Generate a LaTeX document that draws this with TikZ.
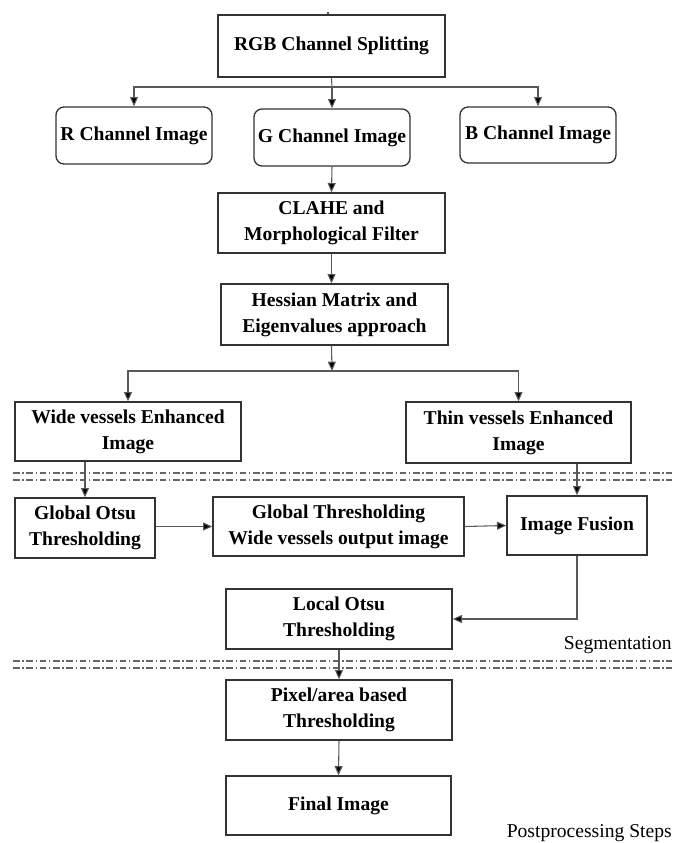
\documentclass[tikz,border=0pt]{standalone}
\usepackage{fontspec}
\setmainfont{Liberation Serif}[BoldFont={Liberation Serif Bold}]
\usetikzlibrary{arrows.meta}

\begin{document}
\begin{tikzpicture}[x=0.75pt, y=-0.75pt,
	box/.style={draw=black!80, line width=1pt, align=center, inner sep=0pt, font=\fontsize{14.7}{19.5}\selectfont\bfseries},
	chan/.style={box, rounded corners=6pt},
	link/.style={draw=black!65, line width=0.8pt, -{Triangle[length=7pt, width=6pt, fill=black]}},
	wire/.style={draw=black!65, line width=0.8pt},
	sep/.style={draw=black!60, line width=1pt, dash pattern=on 5pt off 2pt on 1pt off 2pt},
	note/.style={font=\fontsize{14.7}{17}\selectfont, inner sep=0pt}]

\def\width{672}
\def\height{843}
\def\u{0.75pt}

\path [use as bounding box] (0,0) rectangle (\width,\height);

% BOXES
\node[box, minimum width=227*\u, minimum height=62*\u] (rgb) at (331.5,46) {RGB Channel Splitting};
\node[chan, minimum width=156*\u, minimum height=57*\u] (rch) at (134,135.5) {R Channel Image};
\node[chan, minimum width=156*\u, minimum height=57*\u] (gch) at (332,137.5) {G Channel Image};
\node[chan, minimum width=156*\u, minimum height=56*\u] (bch) at (538,135) {B Channel Image};
\node[box, minimum width=227*\u, minimum height=60*\u] (clahe) at (331.5,223) {CLAHE and\\Morphological Filter};
\node[box, minimum width=227*\u, minimum height=61*\u] (hessian) at (334.5,314.5) {Hessian Matrix and\\Eigenvalues approach};
\node[box, minimum width=226*\u, minimum height=59*\u] (wide) at (128,431.5) {Wide vessels Enhanced\\Image};
\node[box, minimum width=225*\u, minimum height=61*\u] (thin) at (518.5,432.5) {Thin vessels Enhanced\\Image};
\node[box, minimum width=140*\u, minimum height=60*\u] (otsu) at (85,528) {Global Otsu\\Thresholding};
\node[box, minimum width=251*\u, minimum height=59*\u] (global) at (338.5,526.5) {Global Thresholding\\Wide vessels output image};
\node[box, minimum width=140*\u, minimum height=59*\u] (fusion) at (577,525.5) {Image Fusion};
\node[box, minimum width=226*\u, minimum height=60*\u] (local) at (339,619) {Local Otsu\\Thresholding};
\node[box, minimum width=226*\u, minimum height=60*\u] (pixel) at (339,710) {Pixel/area based\\Thresholding};
\node[box, minimum width=225*\u, minimum height=59*\u] (final) at (338.5,805.5) {Final Image};

% STAGES
\node[note, anchor=east] (seg) at (672,645) {Segmentation};
\node[note, anchor=east] (post) at (672,833) {Postprocessing Steps};
\path [sep] (13,473) -- (\width,473);
\path [sep] (13,480) -- (\width,480);
\path [sep] (13,661) -- (\width,661);
\path [sep] (13,668) -- (\width,668);

% LINKS
\coordinate (tick) at (328,12);
\coordinate (split) at (332,87);
\coordinate (branch) at (332,371);
\path [wire] (tick) -- (tick |- rgb.north);
\path [wire] (rgb.south) -- (split);
\path [link] (split) -| (rch.north);
\path [link] (split) -- (gch.north);
\path [link] (split) -| (bch.north);
\path [link] (gch.south) -- (clahe.north);
\path [link] (clahe.south) -- (clahe.south |- hessian.north);
\path [link] (hessian.south -| clahe.south) -- (branch);
\path [link] (branch) -| (wide.north);
\path [link] (branch) -| (thin.north);
\path [link] (otsu.north |- wide.south) -- (otsu.north);
\path [link] (fusion.north |- thin.south) -- (fusion.north);
\path [link] (otsu.east |- global.west) -- (global.west);
\path [link] (global.east) -- (fusion.west);
\path [link] (fusion.south) |- (local.east);
\path [link] (local.south) -- (pixel.north);
\path [link] (pixel.south) -- (final.north);

\end{tikzpicture}
\end{document}
